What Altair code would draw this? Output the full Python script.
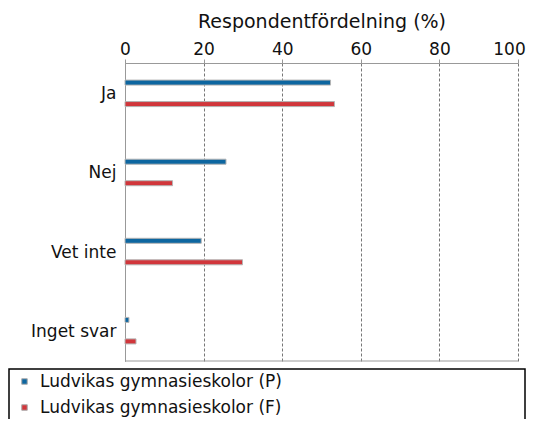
import altair as alt
import pandas as pd

categories = ["Ja", "Nej", "Vet inte", "Inget svar"]
series_names = ["Ludvikas gymnasieskolor (P)", "Ludvikas gymnasieskolor (F)"]
values_p = [52.3, 25.7, 19.4, 1.0]
values_f = [53.3, 12.1, 29.9, 2.8]
colors = ["#0d66a0", "#d1363b"]
x_ticks = [0, 20, 40, 60, 80, 100]
x_title = "Respondentfördelning (%)"

rows = []
for c, vp, vf in zip(categories, values_p, values_f):
    rows.append({"category": c, "series": series_names[0], "value": vp})
    rows.append({"category": c, "series": series_names[1], "value": vf})
df = pd.DataFrame(rows)
one_row = pd.DataFrame({"a": [0]})

FONT = "DejaVu Sans"
W, H = 393, 298

bars = alt.Chart(df).mark_bar(stroke="#b4b4b4", strokeWidth=1).encode(
    x=alt.X(
        "value:Q",
        scale=alt.Scale(domain=[0, 100], nice=False),
        axis=alt.Axis(
            orient="top", values=x_ticks, title=x_title, grid=True,
            gridDash=[3, 2], gridColor="#777777", gridWidth=1,
            domainColor="#999999", tickColor="#999999", tickSize=4,
            labelFont=FONT, labelFontSize=17, labelColor="#111111",
            labelPadding=5, labelBaseline="alphabetic", labelFlush=False,
            labelOffset={"condition": {"test": "datum.value == 100", "value": -9}, "value": 0},
            titleFont=FONT, titleFontSize=19, titleFontWeight="normal",
            titleColor="#111111", titleBaseline="alphabetic", titleY=-36,
        ),
    ),
    y=alt.Y(
        "category:N", sort=categories,
        scale=alt.Scale(paddingInner=0.233, paddingOuter=0),
        axis=alt.Axis(
            title=None, ticks=False, labelPadding=9, labelFont=FONT,
            labelFontSize=17, labelColor="#111111", domainColor="#999999",
            grid=False, labelOffset=1,
        ),
    ),
    yOffset=alt.YOffset(
        "series:N", sort=series_names,
        scale=alt.Scale(paddingInner=0.767, paddingOuter=0.795),
    ),
    color=alt.Color(
        "series:N", sort=series_names,
        scale=alt.Scale(domain=series_names, range=colors),
        legend=alt.Legend(
            orient="none", legendX=-109, legendY=310, title=None,
            symbolType="square", symbolSize=30, symbolStrokeColor="#aaaaaa",
            symbolStrokeWidth=1, labelFont=FONT, labelFontSize=17,
            labelColor="#111111", rowPadding=8, labelOffset=7, padding=0,
            labelLimit=0,
        ),
    ),
)

bottom_line = alt.Chart(one_row).mark_rule(color="#999999", strokeWidth=1).encode(
    x=alt.value(0), x2=alt.value(W), y=alt.value(H)
)

legend_box = alt.Chart(one_row).mark_rect(filled=False, stroke="black", strokeWidth=1.5).encode(
    x=alt.value(-116), x2=alt.value(400), y=alt.value(306), y2=alt.value(420)
)

chart = alt.layer(bars, bottom_line, legend_box).properties(
    width=W, height=H,
    autosize=alt.AutoSizeParams(type="none"),
    padding={"left": 117, "top": 55, "right": 8, "bottom": 58},
).configure_view(stroke=None)

chart.save("out.html", embed_options={"renderer": "svg", "actions": False})
